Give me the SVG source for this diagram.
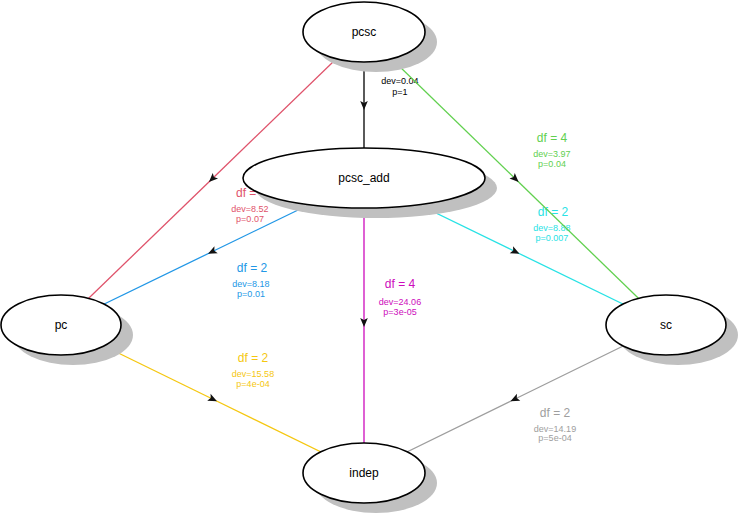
<svg xmlns="http://www.w3.org/2000/svg" width="739" height="516" viewBox="0 0 739 516">
<style>
.e{fill:none;stroke-width:1.3;marker-mid:url(#ah)}
.df{font-family:"Liberation Sans",Arial,sans-serif;font-size:12px;text-anchor:middle}
.st{font-family:"Liberation Sans",Arial,sans-serif;font-size:9px;text-anchor:middle}
.sh{fill:#c0c0c0;stroke:none}
.nd{fill:#fff;stroke:#000;stroke-width:1.6}
.nl{font-family:"Liberation Sans",Arial,sans-serif;font-size:12px;text-anchor:middle;fill:#000}
</style>
<defs>
<marker id="ah" markerUnits="userSpaceOnUse" markerWidth="12" markerHeight="10" viewBox="-6 -5 12 10" refX="0" refY="0" orient="auto">
<path d="M5,0 L-4,-3.8 L-2,0 L-4,3.8 Z" fill="#111"/>
</marker>
</defs>
<rect width="739" height="516" fill="#fff"/>
<g id="edge-labels">
<text class="df" x="250" y="197" fill="#DF536B" style="text-anchor:start" transform="translate(-14,0)">df =</text>
<text class="st" x="250" y="212" fill="#DF536B">dev=8.52</text>
<text class="st" x="250" y="222" fill="#DF536B">p=0.07</text>
<text class="st" x="400" y="84" fill="#000">dev=0.04</text>
<text class="st" x="400" y="95" fill="#000">p=1</text>
<text class="df" x="552" y="142" fill="#61D04F">df = 4</text>
<text class="st" x="552" y="157" fill="#61D04F">dev=3.97</text>
<text class="st" x="552" y="167" fill="#61D04F">p=0.04</text>
<text class="df" x="252" y="272" fill="#2297E6">df = 2</text>
<text class="st" x="251" y="287" fill="#2297E6">dev=8.18</text>
<text class="st" x="251" y="297" fill="#2297E6">p=0.01</text>
<text class="df" x="553" y="216" fill="#28E2E5">df = 2</text>
<text class="st" x="552" y="231" fill="#28E2E5">dev=8.88</text>
<text class="st" x="552" y="241" fill="#28E2E5">p=0.007</text>
<text class="df" x="400" y="288" fill="#CD0BBC">df = 4</text>
<text class="st" x="400" y="305" fill="#CD0BBC">dev=24.06</text>
<text class="st" x="400" y="315" fill="#CD0BBC">p=3e-05</text>
<text class="df" x="253" y="362" fill="#F5C710">df = 2</text>
<text class="st" x="253" y="377" fill="#F5C710">dev=15.58</text>
<text class="st" x="253" y="387" fill="#F5C710">p=4e-04</text>
<text class="df" x="555" y="417" fill="#9E9E9E">df = 2</text>
<text class="st" x="555" y="432" fill="#9E9E9E">dev=14.19</text>
<text class="st" x="555" y="441" fill="#9E9E9E">p=5e-04</text>
</g>
<g id="edges">
<path class="e" stroke="#000" stroke-width="2" d="M364,32 L364,105 L364,178"/>
<path class="e" stroke="#DF536B" d="M364,32 L212.5,178.5 L61,325"/>
<path class="e" stroke="#61D04F" d="M364,32 L515,178.5 L666,325"/>
<path class="e" stroke="#2297E6" d="M364,178 L212.5,251.5 L61,325"/>
<path class="e" stroke="#28E2E5" d="M364,178 L515,251.5 L666,325"/>
<path class="e" stroke="#CD0BBC" d="M364,178 L364,322 L364,473"/>
<path class="e" stroke="#F5C710" d="M61,325 L212.5,399 L364,473"/>
<path class="e" stroke="#9E9E9E" d="M666,325 L515,399 L364,473"/>
</g>
<g id="node-pcsc">
<ellipse class="sh" cx="376" cy="42" rx="61" ry="30"/>
<ellipse class="nd" cx="364" cy="32" rx="61" ry="30"/>
<text class="nl" x="364" y="36">pcsc</text>
</g>
<g id="node-pcsc_add">
<ellipse class="sh" cx="376" cy="188" rx="121" ry="30"/>
<ellipse class="nd" cx="364" cy="178" rx="121" ry="30"/>
<text class="nl" x="364" y="182">pcsc_add</text>
</g>
<g id="node-pc">
<ellipse class="sh" cx="73" cy="335" rx="60" ry="30"/>
<ellipse class="nd" cx="61" cy="325" rx="60" ry="30"/>
<text class="nl" x="61" y="329">pc</text>
</g>
<g id="node-sc">
<ellipse class="sh" cx="678" cy="335" rx="60" ry="30"/>
<ellipse class="nd" cx="666" cy="325" rx="60" ry="30"/>
<text class="nl" x="666" y="329">sc</text>
</g>
<g id="node-indep">
<ellipse class="sh" cx="376" cy="483" rx="61" ry="30"/>
<ellipse class="nd" cx="364" cy="473" rx="61" ry="30"/>
<text class="nl" x="364" y="477">indep</text>
</g>
</svg>
